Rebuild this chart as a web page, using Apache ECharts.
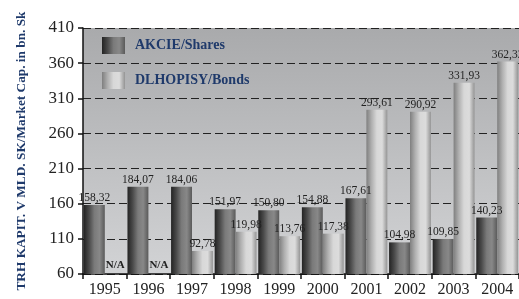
<!DOCTYPE html>
<html><head><meta charset="utf-8">
<script src="https://cdn.jsdelivr.net/npm/echarts@6/dist/echarts.min.js"></script>
<style>html,body{margin:0;padding:0;background:#fff}#c{width:519px;height:299px}</style>
</head><body><div id="c"></div>
<script>
const years = ['1995','1996','1997','1998','1999','2000','2001','2002','2003','2004'];
const shares = [158.32,184.07,184.06,151.97,150.80,154.88,167.61,104.98,109.85,140.23];
const bonds = [null,null,92.78,119.98,113.76,117.38,293.61,290.92,331.93,362.32];
const yTicks = {min:60, max:410, interval:50};
const names = ['AKCIE/Shares','DLHOPISY/Bonds'];
const yTitle = 'TRH KAPIT. V MLD. SK/Market Cap. in bn. Sk';

const fmt = v => v.toFixed(2).replace('.', ',');
const serif = '"Liberation Serif", "DejaVu Serif", serif';
const grad = stops => new echarts.graphic.LinearGradient(0,0,1,0, stops.map((c,i)=>({offset:i/(stops.length-1), color:c})));
const sharesColor = grad(['#232323','#4a4a4a','#7a7a7a','#888888','#5a5a5a']);
const bondsColor = grad(['#7f7f7f','#b0b0b0','#d8d8d8','#dcdcdc','#949494']);

const chart = echarts.init(document.getElementById('c'), null, {renderer:'canvas'});
chart.setOption({
  animation:false,
  grid:{left:83, top:28, bottom:25, width:440, show:true, borderWidth:0,
    backgroundColor:new echarts.graphic.LinearGradient(0,0,0,1,[{offset:0,color:'#a9aaac'},{offset:1,color:'#d2d3d5'}])},
  legend:{orient:'vertical', left:102, top:37, padding:0, itemWidth:23, itemHeight:17, itemGap:18, icon:'rect',
    textStyle:{fontFamily:serif, fontWeight:'bold', fontSize:14, color:'#1f3a6b', padding:[0,0,0,5]},
    data:names},
  xAxis:{type:'category', data:years, boundaryGap:true,
    axisLine:{lineStyle:{color:'#111', width:1.5}},
    axisTick:{show:true, length:5, lineStyle:{color:'#111', width:1.5}},
    axisLabel:{fontFamily:serif, fontSize:16, color:'#222', margin:8}},
  yAxis:{type:'value', min:yTicks.min, max:yTicks.max, interval:yTicks.interval,
    name:yTitle, nameLocation:'middle', nameGap:55, nameRotate:90,
    nameTextStyle:{fontFamily:serif, fontWeight:'bold', fontSize:13.3, color:'#1f3a6b'},
    axisLine:{show:true, lineStyle:{color:'#111', width:1.5}},
    axisTick:{show:true, length:5, lineStyle:{color:'#111', width:1.5}},
    axisLabel:{fontFamily:serif, fontSize:17, color:'#222', margin:9},
    splitLine:{show:true, lineStyle:{color:'#222', type:[8,4], width:1}}},
  series:[
    {name:names[0], type:'bar', data:shares, barGap:'0%', barCategoryGap:'4%',
     itemStyle:{color:sharesColor},
     label:{show:true, position:'top', distance:1, fontFamily:serif, fontSize:11.5, color:'#222', formatter:p=>fmt(p.value)}},
    {name:names[1], type:'bar', barGap:'0%', barCategoryGap:'4%',
     data:bonds.map(v => v==null ? {value:yTicks.min, label:{formatter:'N/A', fontWeight:'bold', fontSize:11, color:'#222', distance:3}} : v),
     itemStyle:{color:bondsColor},
     label:{show:true, position:'top', distance:1, fontFamily:serif, fontSize:11.5, color:'#222', formatter:p=>p.value===yTicks.min?'N/A':fmt(p.value)}}
  ]
});
</script></body></html>
